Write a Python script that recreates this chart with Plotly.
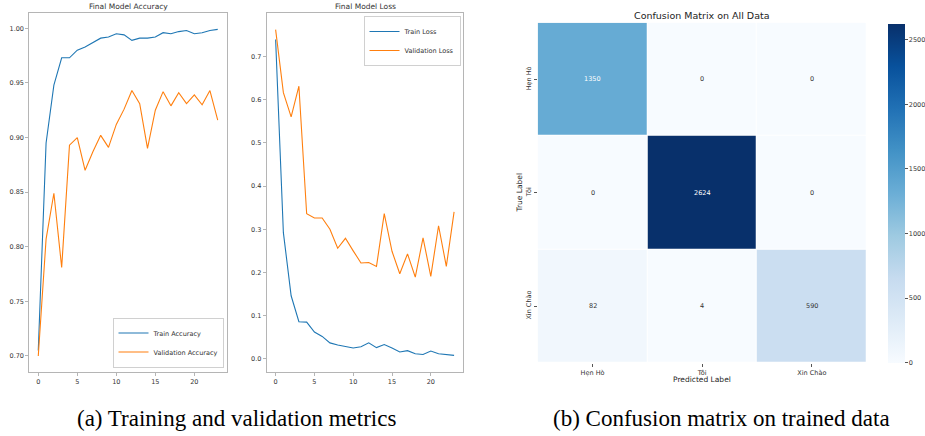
import plotly.graph_objects as go

# ---------------- data ----------------
epochs = list(range(24))
train_acc = [0.705, 0.895, 0.948, 0.973, 0.973, 0.980, 0.983, 0.987, 0.991, 0.992,
             0.995, 0.994, 0.989, 0.991, 0.991, 0.992, 0.996, 0.995, 0.997, 0.998,
             0.995, 0.996, 0.998, 0.999]
val_acc = [0.700, 0.807, 0.849, 0.781, 0.893, 0.900, 0.870, 0.887, 0.902, 0.891,
           0.912, 0.926, 0.943, 0.931, 0.890, 0.925, 0.942, 0.929, 0.941, 0.931,
           0.939, 0.930, 0.943, 0.916]
train_loss = [0.739, 0.292, 0.146, 0.086, 0.085, 0.062, 0.052, 0.037, 0.032, 0.028,
              0.025, 0.028, 0.037, 0.026, 0.033, 0.025, 0.016, 0.019, 0.012, 0.010,
              0.018, 0.012, 0.010, 0.008]
val_loss = [0.762, 0.616, 0.560, 0.631, 0.336, 0.326, 0.326, 0.300, 0.256, 0.279,
            0.250, 0.222, 0.223, 0.214, 0.336, 0.249, 0.197, 0.243, 0.189, 0.280,
            0.191, 0.308, 0.214, 0.340]

class_labels = ["Hẹn Hò", "Tôi", "Xin Chào"]
confusion = [[1350, 0, 0],
             [0, 2624, 0],
             [82, 4, 590]]

acc_ticks = [0.70, 0.75, 0.80, 0.85, 0.90, 0.95, 1.00]
loss_ticks = [0.0, 0.1, 0.2, 0.3, 0.4, 0.5, 0.6, 0.7]
epoch_ticks = [0, 5, 10, 15, 20]
cbar_ticks = [0, 500, 1000, 1500, 2000, 2500]

# ---------------- styling ----------------
W, H = 925, 436
BLUE = "#1f77b4"
ORANGE = "#ff7f0e"
SPINE = "#b5b5b5"
TXT = "#333333"
MPL_FONT = "DejaVu Sans"
blues = ['rgb(247,251,255)', 'rgb(222,235,247)', 'rgb(198,219,239)', 'rgb(158,202,225)',
         'rgb(107,174,214)', 'rgb(66,146,198)', 'rgb(33,113,181)', 'rgb(8,81,156)',
         'rgb(8,48,107)']
blues_scale = [[i / (len(blues) - 1), c] for i, c in enumerate(blues)]


def px(x):
    # window pixel x -> paper fraction
    return x / W


def py(y):
    # window pixel y (from top) -> paper fraction
    return 1 - y / H


fig = go.Figure()

# accuracy
fig.add_trace(go.Scatter(x=epochs, y=train_acc, mode="lines", name="Train Accuracy",
                         line=dict(color=BLUE, width=1.1), xaxis="x", yaxis="y",
                         legend="legend"))
fig.add_trace(go.Scatter(x=epochs, y=val_acc, mode="lines", name="Validation Accuracy",
                         line=dict(color=ORANGE, width=1.1), xaxis="x", yaxis="y",
                         legend="legend"))
# loss
fig.add_trace(go.Scatter(x=epochs, y=train_loss, mode="lines", name="Train Loss",
                         line=dict(color=BLUE, width=1.1), xaxis="x2", yaxis="y2",
                         legend="legend2"))
fig.add_trace(go.Scatter(x=epochs, y=val_loss, mode="lines", name="Validation Loss",
                         line=dict(color=ORANGE, width=1.1), xaxis="x2", yaxis="y2",
                         legend="legend2"))
# confusion matrix
zmax = max(max(r) for r in confusion)
fig.add_trace(go.Heatmap(z=confusion, x=class_labels, y=class_labels,
                         colorscale=blues_scale, zmin=0, zmax=zmax,
                         xaxis="x3", yaxis="y3", xgap=1, ygap=1, showscale=True,
                         hoverinfo="skip",
                         colorbar=dict(x=px(887.7), xanchor="left", xpad=0, ypad=0,
                                       thickness=16.6, thicknessmode="pixels",
                                       len=(362.7 - 23.3) / H, lenmode="fraction",
                                       y=py(362.7), yanchor="bottom",
                                       outlinewidth=0, tickvals=cbar_ticks,
                                       ticks="outside", ticklen=3, tickcolor="#555",
                                       tickfont=dict(family=MPL_FONT, size=6.5, color=TXT))))

annotations = []
for i, row in enumerate(confusion):
    for j, v in enumerate(row):
        annotations.append(dict(x=class_labels[j], y=class_labels[i], xref="x3", yref="y3",
                                text=str(v), showarrow=False,
                                font=dict(family=MPL_FONT, size=6.5,
                                          color="white" if v > zmax * 0.45 else TXT)))


def note(text, x, y, size, color, family=MPL_FONT, angle=0):
    return dict(text=text, x=px(x), y=py(y), xref="paper", yref="paper", showarrow=False,
                xanchor="center", yanchor="middle", textangle=angle,
                font=dict(family=family, size=size, color=color))


annotations += [
    note("Final Model Accuracy", 128, 6.5, 7.5, TXT),
    note("Final Model Loss", 365, 6.5, 7.5, TXT),
    note("Confusion Matrix on All Data", 702, 15.5, 9.5, "#222"),
    note("Predicted Label", 702, 379.5, 7.5, "#222"),
    note("True Label", 519, 192.5, 7.5, "#222", angle=-90),
    note("(a) Training and validation metrics", 236, 418, 23, "black", "Liberation Serif"),
    note("(b) Confusion matrix on trained data", 721, 418, 23, "black", "Liberation Serif"),
]

tick_font = dict(family=MPL_FONT, size=6.5, color=TXT)
line_axis = dict(showline=True, mirror=True, linecolor=SPINE, linewidth=1, showgrid=False,
                 zeroline=False, ticks="outside", ticklen=3, tickcolor=SPINE, tickwidth=1,
                 tickfont=tick_font, automargin=False)

legend_common = dict(bgcolor="rgba(255,255,255,0.85)", bordercolor="#d0d0d0", borderwidth=1,
                     font=dict(family=MPL_FONT, size=6.5, color=TXT), itemwidth=30,
                     tracegroupgap=0)

fig.update_layout(
    width=W, height=H, margin=dict(l=0, r=0, t=0, b=0, autoexpand=False),
    paper_bgcolor="white", plot_bgcolor="white",
    showlegend=True,
    xaxis=dict(domain=[px(29.3), px(226.7)], anchor="y", range=[-1.15, 24.15],
               tickvals=epoch_ticks, **line_axis),
    yaxis=dict(domain=[py(371.7), py(12.7)], anchor="x", range=[0.6856, 1.0143],
               tickvals=acc_ticks, tickformat=".2f", **line_axis),
    xaxis2=dict(domain=[px(266.7), px(463)], anchor="y2", range=[-1.15, 24.15],
                tickvals=epoch_ticks, **line_axis),
    yaxis2=dict(domain=[py(371.7), py(13.3)], anchor="x2", range=[-0.0297, 0.7997],
                tickvals=loss_ticks, tickformat=".1f", **line_axis),
    xaxis3=dict(domain=[px(537.7), px(866.7)], anchor="y3", showline=False, showgrid=False,
                zeroline=False, ticks="outside", ticklen=3, tickcolor="#555",
                tickfont=tick_font, automargin=False),
    yaxis3=dict(domain=[py(362.7), py(22.7)], anchor="x3", autorange="reversed",
                showline=False, showgrid=False, zeroline=False, ticks="outside", ticklen=3,
                tickcolor="#555", tickangle=-90, tickfont=tick_font, automargin=False),
    legend=dict(x=px(223.5), y=py(367.5), xanchor="right", yanchor="bottom", **legend_common),
    legend2=dict(x=px(460.5), y=py(16), xanchor="right", yanchor="top", **legend_common),
    annotations=annotations,
)

# remove the page's default body margin so the figure fills the 925x436 window exactly
fig.write_html("out.html",
               config={"displayModeBar": False},
               post_script="document.body.style.margin='0';"
                           "document.body.style.overflow='hidden';")
